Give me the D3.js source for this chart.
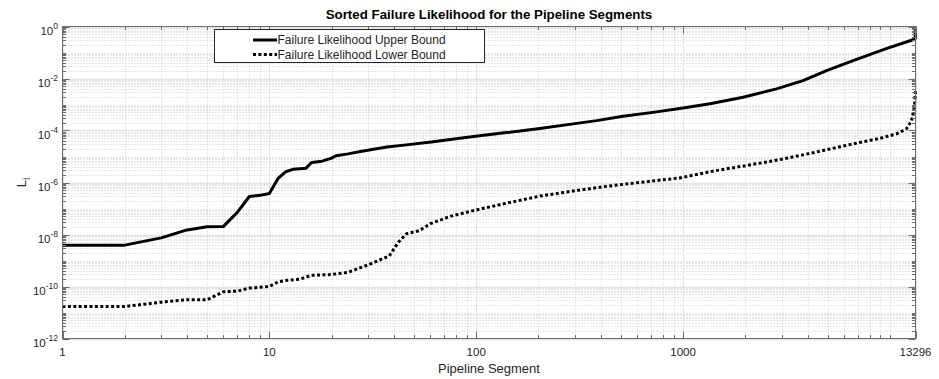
<!DOCTYPE html>
<html>
<head>
<meta charset="utf-8">
<script src="https://cdn.jsdelivr.net/npm/d3@7"></script>
<style>
  html, body { margin: 0; padding: 0; background: #fff; }
  svg { display: block; font-family: "Liberation Sans", Arial, Helvetica, sans-serif; }
</style>
</head>
<body>
<svg id="chart" width="939" height="379"></svg>
<script>
// ---- data ----
const upperSegment = [1, 2, 3, 4, 5, 6, 7, 8, 9, 10, 11, 12, 13, 14, 15, 16, 18, 20, 21, 24, 28, 37, 46, 62, 75, 97, 140, 203, 294, 382, 513, 745, 1000, 1350, 1950, 2830, 3800, 4940, 6640, 9600, 12950, 13250, 13296];
const upperValue = [3.9e-9, 3.9e-9, 7.4e-9, 1.5e-8, 2.0e-8, 2.05e-8, 7.1e-8, 2.9e-7, 3.2e-7, 3.8e-7, 1.4e-6, 2.6e-6, 3.2e-6, 3.4e-6, 3.5e-6, 5.9e-6, 6.6e-6, 8.7e-6, 1.07e-5, 1.26e-5, 1.6e-5, 2.3e-5, 2.8e-5, 3.7e-5, 4.5e-5, 5.9e-5, 8.3e-5, 1.2e-4, 1.8e-4, 2.4e-4, 3.5e-4, 5.2e-4, 7.4e-4, 1.07e-3, 1.9e-3, 4.0e-3, 8.3e-3, 2.0e-2, 4.9e-2, 1.4e-1, 3.1e-1, 3.5e-1, 1.0];

const lowerSegment = [1, 2, 3, 4, 5, 6, 7, 8, 9, 10, 11, 12, 14, 16, 20, 24, 30, 38, 42, 46, 53, 60, 75, 97, 140, 203, 294, 424, 613, 965, 1400, 2030, 2940, 4260, 6170, 8930, 10770, 12030, 12730, 13130, 13296];
const lowerValue = [1.7e-11, 1.7e-11, 2.5e-11, 3.1e-11, 3.1e-11, 6.3e-11, 6.6e-11, 8.7e-11, 9.3e-11, 1.0e-10, 1.5e-10, 1.7e-10, 1.9e-10, 2.7e-10, 2.9e-10, 3.5e-10, 6.8e-10, 1.5e-9, 5.0e-9, 1.07e-8, 1.4e-8, 2.6e-8, 5.0e-8, 8.3e-8, 1.6e-7, 3.0e-7, 4.7e-7, 7.1e-7, 1.0e-6, 1.5e-6, 2.75e-6, 4.5e-6, 7.6e-6, 1.4e-5, 2.7e-5, 5.0e-5, 7.4e-5, 1.17e-4, 2.4e-4, 7.9e-4, 3.2e-3];

const xTickValues = [1, 10, 100, 1000, 13296];
const xTickLabels = ["1", "10", "100", "1000", "13296"];
const yTickExponents = [0, -2, -4, -6, -8, -10, -12];
const seriesNames = ["Failure Likelihood Upper Bound", "Failure Likelihood Lower Bound"];
const titleText = "Sorted Failure Likelihood for the Pipeline Segments";
const xLabelText = "Pipeline Segment";

// ---- layout ----
const L = 62.5, R = 915.5, T = 26.5, B = 338.5;
const svg = d3.select("#chart");
const x = d3.scaleLog().domain([1, 13296]).range([L, R]);
const y = d3.scaleLog().domain([1e-12, 1]).range([B, T]);

// minor tick values
const xMinor = [];
for (let e = 0; e <= 4; e++) for (let m = 2; m <= 9; m++) { const v = m * Math.pow(10, e); if (v < 13296) xMinor.push(v); }
xMinor.push(10000);
const yMinor = [];
for (let e = -12; e < 0; e++) for (let m = 1; m <= 9; m++) {
  const v = m * Math.pow(10, e);
  if (m === 1 && e % 2 === 0) continue;
  yMinor.push(v);
}
const xMinorFiltered = xMinor.filter(v => ![10, 100, 1000].includes(v));

const g = svg.append("g");

// minor grid
g.append("g").selectAll("line").data(xMinorFiltered).join("line")
  .attr("x1", d => Math.round(x(d)) + 0.5).attr("x2", d => Math.round(x(d)) + 0.5)
  .attr("y1", T).attr("y2", B)
  .attr("stroke", "#cfcfcf").attr("stroke-width", 1).attr("stroke-dasharray", "1,2");
g.append("g").selectAll("line").data(yMinor).join("line")
  .attr("x1", L).attr("x2", R)
  .attr("y1", d => Math.round(y(d)) + 0.5).attr("y2", d => Math.round(y(d)) + 0.5)
  .attr("stroke", "#cfcfcf").attr("stroke-width", 1).attr("stroke-dasharray", "1,2");

// major grid
g.append("g").selectAll("line").data(xTickValues).join("line")
  .attr("x1", d => Math.round(x(d)) + 0.5).attr("x2", d => Math.round(x(d)) + 0.5)
  .attr("y1", T).attr("y2", B)
  .attr("stroke", "#e3e3e3").attr("stroke-width", 1);
g.append("g").selectAll("line").data(yTickExponents).join("line")
  .attr("x1", L).attr("x2", R)
  .attr("y1", d => Math.round(y(Math.pow(10, d))) + 0.5).attr("y2", d => Math.round(y(Math.pow(10, d))) + 0.5)
  .attr("stroke", "#e3e3e3").attr("stroke-width", 1.5);

// series lines
const line = d3.line().x(d => x(d[0])).y(d => y(d[1]));
const upperData = upperSegment.map((s, i) => [s, upperValue[i]]);
const lowerData = lowerSegment.map((s, i) => [s, lowerValue[i]]);
g.append("path").datum(upperData).attr("d", line)
  .attr("fill", "none").attr("stroke", "#000").attr("stroke-width", 3).attr("stroke-linejoin", "round");
g.append("path").datum(lowerData).attr("d", line)
  .attr("fill", "none").attr("stroke", "#000").attr("stroke-width", 3).attr("stroke-dasharray", "3,2.4");

// axes box
const axisColor = "#6e6e6e";
g.append("rect").attr("x", L).attr("y", T).attr("width", R - L).attr("height", B - T)
  .attr("fill", "none").attr("stroke", axisColor).attr("stroke-width", 1);

// ticks
const tickG = g.append("g").attr("stroke", axisColor).attr("stroke-width", 1);
const xMaj = xTickValues, majLen = 7, minLen = 3.5;
xMaj.forEach(v => {
  const px = Math.round(x(v)) + 0.5;
  tickG.append("line").attr("x1", px).attr("x2", px).attr("y1", B).attr("y2", B - majLen);
  tickG.append("line").attr("x1", px).attr("x2", px).attr("y1", T).attr("y2", T + majLen);
});
xMinorFiltered.forEach(v => {
  const px = Math.round(x(v)) + 0.5;
  tickG.append("line").attr("x1", px).attr("x2", px).attr("y1", B).attr("y2", B - minLen);
  tickG.append("line").attr("x1", px).attr("x2", px).attr("y1", T).attr("y2", T + minLen);
});
yTickExponents.forEach(e => {
  const py = Math.round(y(Math.pow(10, e))) + 0.5;
  tickG.append("line").attr("x1", L).attr("x2", L + majLen).attr("y1", py).attr("y2", py);
  tickG.append("line").attr("x1", R).attr("x2", R - majLen).attr("y1", py).attr("y2", py);
});
yMinor.forEach(v => {
  const py = Math.round(y(v)) + 0.5;
  tickG.append("line").attr("x1", L).attr("x2", L + minLen).attr("y1", py).attr("y2", py);
  tickG.append("line").attr("x1", R).attr("x2", R - minLen).attr("y1", py).attr("y2", py);
});

// tick labels
const textColor = "#262626";
g.append("g").selectAll("text").data(xTickValues).join("text")
  .attr("x", d => x(d)).attr("y", 356)
  .attr("text-anchor", "middle").attr("font-size", 11.5).attr("fill", textColor)
  .text((d, i) => xTickLabels[i]);

const yl = g.append("g").selectAll("text").data(yTickExponents).join("text")
  .attr("x", 58).attr("y", d => y(Math.pow(10, d)) + 8)
  .attr("text-anchor", "end").attr("font-size", 11.5).attr("fill", textColor);
yl.append("tspan").text("10");
yl.append("tspan").attr("dy", -6).attr("font-size", 8.5).text(d => String(d));

// axis labels and title
g.append("text").attr("x", (L + R) / 2).attr("y", 373).attr("text-anchor", "middle")
  .attr("font-size", 13).attr("fill", textColor).text(xLabelText);
const ylab = g.append("text").attr("transform", "translate(26," + ((T + B) / 2) + ") rotate(-90)")
  .attr("text-anchor", "middle").attr("font-size", 13).attr("fill", textColor);
ylab.append("tspan").text("L");
ylab.append("tspan").attr("dy", 4).attr("font-size", 10).text("i");
g.append("text").attr("x", (L + R) / 2).attr("y", 19).attr("text-anchor", "middle")
  .attr("font-size", 13.3).attr("font-weight", "bold").attr("fill", "#000").text(titleText);

// legend
const lg = g.append("g");
lg.append("rect").attr("x", 214.5).attr("y", 29.5).attr("width", 270).attr("height", 33)
  .attr("fill", "#fff").attr("stroke", "#262626").attr("stroke-width", 1);
seriesNames.forEach((name, i) => {
  const ly = 40 + i * 14.5;
  lg.append("line").attr("x1", 253).attr("x2", 277).attr("y1", ly).attr("y2", ly)
    .attr("stroke", "#000").attr("stroke-width", 3)
    .attr("stroke-dasharray", i === 1 ? "3,2.4" : null);
  lg.append("text").attr("x", 277.5).attr("y", ly + 4.2).attr("font-size", 12)
    .attr("fill", textColor).text(name);
});
</script>
</body>
</html>
